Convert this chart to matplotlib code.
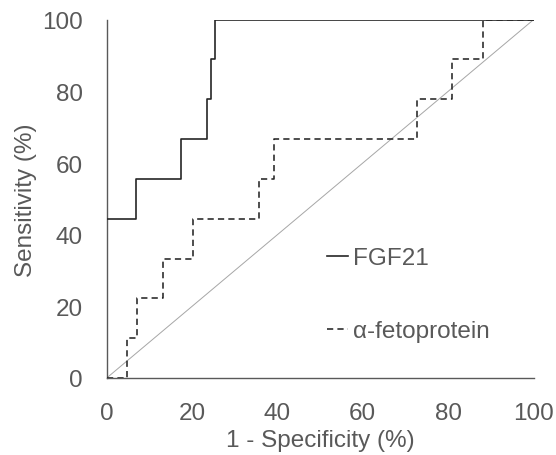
import matplotlib
matplotlib.use("Agg")
import matplotlib.pyplot as plt

plt.rcParams['font.family'] = ['Liberation Sans', 'DejaVu Sans']

# Data
fgf21_fpr = [0, 6.9, 17.4, 23.5, 24.4, 25.3, 100]
fgf21_sens = [44.4, 55.6, 66.7, 77.8, 88.9, 100, 100]
afp_fpr = [0, 4.7, 7.1, 13.2, 20.2, 35.7, 39.2, 72.6, 81.0, 88.1, 100]
afp_sens = [0, 11.1, 22.2, 33.3, 44.4, 55.6, 66.7, 77.8, 88.9, 100, 100]
ref_line = [0, 100]
ticks = [0, 20, 40, 60, 80, 100]
labels = ["FGF21", "α-fetoprotein"]

W, H = 556, 456
FS = 17.5
fig = plt.figure(figsize=(W / 100, H / 100), dpi=100)
ax = fig.add_axes([106.7 / W, 1 - 379 / H, (533.5 - 106.7) / W, (379 - 20.7) / H])

ax.plot(ref_line, ref_line, color='#a6a6a6', lw=0.7, zorder=1)
ax.plot(fgf21_fpr, fgf21_sens, drawstyle='steps-post', color='#262626', lw=1.2,
        label=labels[0], zorder=3)
ax.plot(afp_fpr, afp_sens, drawstyle='steps-post', color='#262626', lw=1.15,
        linestyle=(0, (3.9, 2.6)), label=labels[1], zorder=3)

ax.set_xlim(0, 100)
ax.set_ylim(0, 100)
ax.set_xticks(ticks)
ax.set_yticks(ticks)
for s in ['top', 'right']:
    ax.spines[s].set_visible(False)
for s in ['left', 'bottom']:
    ax.spines[s].set_color('#595959')
    ax.spines[s].set_linewidth(1.0)
ax.tick_params(length=0, labelsize=FS, colors='#595959', pad=17)
ax.set_xlabel("1 - Specificity (%)", fontsize=FS, color='#595959', labelpad=4)
ax.set_ylabel("Sensitivity (%)", fontsize=FS, color='#595959', labelpad=4)

leg = ax.legend(loc='upper left', bbox_to_anchor=(326.7 / W, 1 - 248 / H),
                bbox_transform=fig.transFigure, frameon=False, fontsize=FS,
                handlelength=0.89, handletextpad=0.2, labelspacing=2.1,
                borderpad=0, borderaxespad=0)
for t in leg.get_texts():
    t.set_color('#595959')

fig.savefig("out.png", dpi=100)
